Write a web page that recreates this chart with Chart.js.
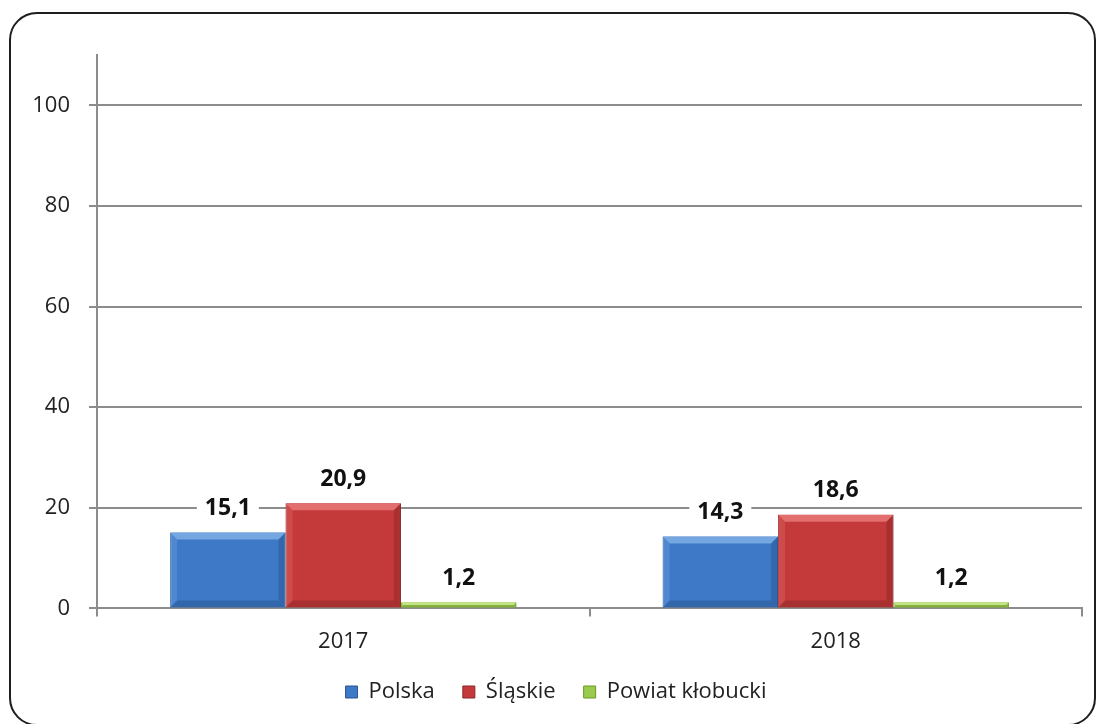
<!DOCTYPE html>
<html>
<head>
<meta charset="utf-8">
<script src="https://cdn.jsdelivr.net/npm/chart.js@4.4.0/dist/chart.umd.min.js"></script>
<style>
html, body { margin: 0; padding: 0; background: #fff; overflow: hidden; }
#frame { position: absolute; left: 9px; top: 12px; width: 1087px; height: 714px; border: 2px solid #1e1e1e; border-radius: 28px; box-sizing: border-box; }
#wrap { position: absolute; left: 0; top: 0; width: 1099px; height: 724px; }
</style>
</head>
<body>
<div id="frame"></div>
<div id="wrap"><canvas id="myChart" width="1099" height="724"></canvas></div>
<script>
// data
const years = ['2017', '2018'];
const seriesNames = ['Polska', 'Śląskie', 'Powiat kłobucki'];
const polska = [15.1, 14.3];
const slaskie = [20.9, 18.6];
const klobucki = [1.2, 1.2];
const yTicks = [0, 20, 40, 60, 80, 100];

const FONT = '"Open Sans", "DejaVu Sans", sans-serif';
const GRID = '#8c8c8c';

// main / light / dark for the bevelled look
const palette = [
    ['#3d79c7', '#74a6e2', '#2a5591'],
    ['#c43a3b', '#e26e6e', '#8c2526'],
    ['#9bcb4d', '#c4e585', '#6b982c']
];

function fmt(v) {
    return v.toFixed(1).replace('.', ',');
}

// draws the light top / dark bottom edges on each bar
const bevel = {
    id: 'bevel',
    afterDatasetsDraw(chart) {
        const c = chart.ctx;
        chart.data.datasets.forEach((ds, i) => {
            const meta = chart.getDatasetMeta(i);
            const col = palette[i];
            meta.data.forEach(el => {
                const { x, y, base, width } = el.getProps(['x', 'y', 'base', 'width'], true);
                const l = x - width / 2, r = x + width / 2;
                const h = base - y;
                const b = Math.min(7, h / 2);
                c.save();
                // top
                c.fillStyle = col[1];
                c.beginPath();
                c.moveTo(l, y); c.lineTo(r, y); c.lineTo(r - b, y + b); c.lineTo(l + b, y + b);
                c.closePath(); c.fill();
                // left
                c.globalAlpha = 0.35;
                c.beginPath();
                c.moveTo(l, y); c.lineTo(l + b, y + b); c.lineTo(l + b, base - b); c.lineTo(l, base);
                c.closePath(); c.fill();
                // right + bottom
                c.globalAlpha = 0.5;
                c.fillStyle = col[2];
                c.beginPath();
                c.moveTo(r, y); c.lineTo(r, base); c.lineTo(r - b, base - b); c.lineTo(r - b, y + b);
                c.closePath(); c.fill();
                c.beginPath();
                c.moveTo(l, base); c.lineTo(r, base); c.lineTo(r - b, base - b); c.lineTo(l + b, base - b);
                c.closePath(); c.fill();
                c.restore();
            });
        });
    }
};

// value labels above bars, on a white background
const valueLabels = {
    id: 'valueLabels',
    afterDatasetsDraw(chart) {
        const c = chart.ctx;
        c.save();
        c.font = 'bold 23px ' + FONT;
        c.textAlign = 'center';
        c.textBaseline = 'middle';
        chart.data.datasets.forEach((ds, i) => {
            chart.getDatasetMeta(i).data.forEach((el, j) => {
                const { x, y } = el.getProps(['x', 'y'], true);
                const txt = fmt(ds.data[j]);
                const w = c.measureText(txt).width + 16;
                const cy = y - 25;
                c.fillStyle = '#fff';
                c.fillRect(x - w / 2, cy - 13, w, 26);
                c.fillStyle = '#111';
                c.fillText(txt, x, cy + 1);
            });
        });
        c.restore();
    }
};

const ctx = document.getElementById('myChart').getContext('2d');

const config = {
    type: 'bar',
    data: {
        labels: years,
        datasets: [polska, slaskie, klobucki].map((d, i) => ({
            label: seriesNames[i],
            data: d,
            backgroundColor: palette[i][0],
            borderColor: palette[i][2],
            borderWidth: 1,
            categoryPercentage: 0.703,
            barPercentage: 1
        }))
    },
    options: {
        responsive: false,
        animation: false,
        layout: { padding: { top: 55, right: 17, left: 30, bottom: 11 } },
        scales: {
            x: {
                grid: { display: true, drawOnChartArea: false, drawTicks: true, tickLength: 8, color: GRID, lineWidth: 2, offset: true },
                border: { display: true, color: GRID, width: 2 },
                ticks: { color: '#222', font: { family: FONT, size: 22 }, padding: 12 },
                afterFit(scale) { scale.height = 44.6; }
            },
            y: {
                min: 0,
                max: 110,
                afterBuildTicks(axis) { axis.ticks = yTicks.map(v => ({ value: v })); },
                grid: { color: GRID, lineWidth: 2, tickLength: 8 },
                border: { display: true, color: GRID, width: 2 },
                ticks: { color: '#222', font: { family: FONT, size: 22 }, padding: 19 },
                afterFit(scale) { scale.width = 67; }
            }
        },
        plugins: {
            legend: {
                position: 'bottom',
                labels: {
                    color: '#222',
                    font: { family: FONT, size: 22 },
                    boxWidth: 12,
                    boxHeight: 12,
                    padding: 28
                }
            },
            tooltip: { enabled: false }
        }
    },
    plugins: [bevel, valueLabels]
};

new Chart(ctx, config);
</script>
</body>
</html>
